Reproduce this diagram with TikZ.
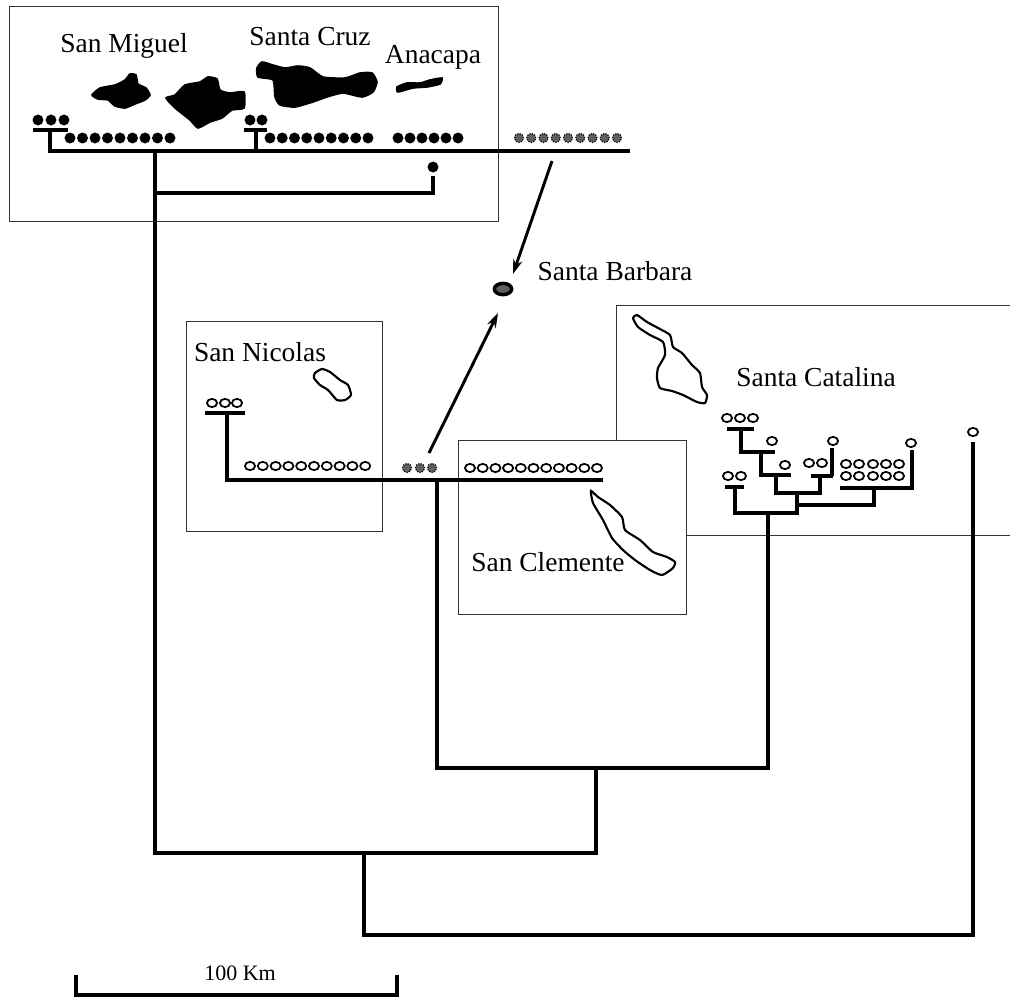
\documentclass[tikz,border=0pt]{standalone}
\usepackage{fontspec}
\setmainfont{Liberation Serif}
\usetikzlibrary{shapes.geometric, arrows.meta, positioning, calc}
\definecolor{speckle}{RGB}{95,95,95}

\begin{document}
\begin{tikzpicture}[
  x=0.75pt, y=-0.75pt,
  frame/.style={line width=0.6pt, black!80},
  island/.style={draw, line width=1.6pt, fill=white, smooth cycle, tension=0.35},
  darkisle/.style={draw, line width=1.2pt, fill=black, smooth cycle, tension=0.35},
  branch/.style={line width=3.6pt},
  filldot/.style={circle, fill=black, minimum size=8.2pt, inner sep=0pt},
  opendot/.style={ellipse, draw, line width=1.3pt, fill=white, minimum width=7.6pt, minimum height=6.2pt, inner sep=0pt},
  greydot/.style={circle, draw=black, densely dotted, line width=0.9pt, fill=speckle, minimum size=6.8pt, inner sep=0pt},
  lab/.style={font=\fontsize{20.6}{24}\selectfont, inner sep=0pt},
  rel/.style={-{Stealth[length=11pt, width=7pt]}, line width=2.2pt}
]
  \useasboundingbox (0,0) rectangle (1010,997);

  % Boxes
  \draw[frame] (9,6) rectangle (498,221);
  \draw[frame] (186,321) rectangle (382,531);
  \coordinate (catTop) at (1010,305);
  \coordinate (catCorner) at (616,305);
  \coordinate (catLeft) at (616,440);
  \coordinate (catBot) at (686,535);
  \coordinate (catEnd) at (1010,535);
  \draw[frame] (catTop) -- (catCorner) -- (catLeft);
  \draw[frame] (catBot) -- (catEnd);
  \draw[frame] (458,440) rectangle (686,614);

  % Islands
  \draw[darkisle] plot coordinates {(92,95) (100,88) (115,85) (125,80) (130,74) (136,75) (138,84) (146,88) (150,95) (145,100) (135,104) (125,108) (115,106) (108,100) (98,99)};
  \draw[darkisle] plot coordinates {(166,98) (175,95) (185,85) (200,82) (208,77) (217,79) (220,90) (230,93) (244,92) (244,108) (232,110) (222,118) (210,122) (198,128) (190,120) (175,108)};
  \draw[darkisle] plot coordinates {(257,68) (262,62) (273,65) (285,68) (298,66) (310,68) (323,77) (345,78) (360,73) (372,73) (377,82) (373,92) (362,97) (343,93) (327,97) (313,102) (295,107) (280,105) (275,97) (273,80) (258,77)};
  \draw[darkisle] plot coordinates {(397,87) (407,83) (420,83) (430,80) (442,78) (440,84) (427,87) (413,88) (398,92)};
  \draw[island] plot coordinates {(315,373) (322,369) (330,372) (340,380) (348,385) (351,395) (345,400) (337,400) (328,390) (320,385) (314,378)};
  \draw[island] plot coordinates {(633,318) (637,315) (647,322) (658,328) (670,335) (673,347) (682,353) (692,365) (700,373) (702,387) (707,395) (705,403) (697,402) (683,395) (672,391) (660,388) (657,378) (658,368) (665,355) (663,342) (650,335) (638,327)};
  \draw[island] plot coordinates {(591,491) (598,497) (610,505) (622,517) (625,530) (640,540) (653,552) (667,557) (675,562) (673,568) (662,575) (650,570) (635,560) (623,550) (612,538) (603,520) (593,503)};

  % Labels
  \node[lab] (sanmiguel) at (124,46) {San Miguel};
  \node[lab] (santacruz) at (310,37) {Santa Cruz};
  \node[lab] (anacapa) at (433,57) {Anacapa};
  \node[lab] (santabarbara) at (615,271) {Santa Barbara};
  \node[lab] (sannicolas) at (260,352) {San Nicolas};
  \node[lab] (santacatalina) at (816,377) {Santa Catalina};
  \node[lab] (sanclemente) at (548,562) {San Clemente};
  \node[font=\fontsize{16.5}{20}\selectfont, inner sep=0pt] (scalelab) at (240,973) {100 Km};

  % Northern group
  \foreach \x in {38,51,64} \node[filldot] (mig\x) at (\x,120) {};
  \foreach \x in {250,262} \node[filldot] (cruz\x) at (\x,120) {};
  \foreach \i in {0,...,8} \node[filldot] (rowa\i) at ({70+12.5*\i},138) {};
  \foreach \i in {0,...,8} \node[filldot] (rowb\i) at ({270+12.25*\i},138) {};
  \foreach \i in {0,...,5} \node[filldot] (rowc\i) at ({398+12*\i},138) {};
  \foreach \i in {0,...,8} \node[greydot] (rowd\i) at ({519+12.25*\i},138) {};
  \node[filldot] (anaTip) at (433,167) {};

  % Santa Barbara
  \node[ellipse, draw=black, line width=2.6pt, fill=speckle, minimum width=13pt, minimum height=8.5pt, inner sep=0pt] (barbara) at (503,289) {};
  \coordinate (arrA) at (552,161);
  \coordinate (arrAend) at (513,274);
  \coordinate (arrB) at (429,453);
  \coordinate (arrBend) at (498,313);
  \draw[rel] (arrA) -- (arrAend);
  \draw[rel] (arrB) -- (arrBend);

  % Southern rows
  \foreach \x in {212,225,237} \node[opendot] (nic\x) at (\x,403) {};
  \foreach \i in {0,...,9} \node[opendot] (rowe\i) at ({250+12.8*\i},466) {};
  \foreach \x in {407,420,432} \node[greydot] (grey\x) at (\x,468) {};
  \foreach \i in {0,...,10} \node[opendot] (rowf\i) at ({470+12.7*\i},468) {};

  % Catalina tips
  \foreach \x in {727,740,753} \node[opendot] (cat\x) at (\x,418) {};
  \foreach \x in {728,741} \node[opendot] (catb\x) at (\x,476) {};
  \foreach \x in {809,822} \node[opendot] (catc\x) at (\x,463) {};
  \node[opendot] (tipA) at (772,441) {};
  \node[opendot] (tipB) at (785,465) {};
  \node[opendot] (tipC) at (833,441) {};
  \node[opendot] (tipD) at (911,443) {};
  \node[opendot] (tipE) at (973,432) {};
  \foreach \x in {846,859,873,886,899} {
    \node[opendot] (gridu\x) at (\x,464) {};
    \node[opendot] (gridl\x) at (\x,476) {};
  }

  % Tree junctions
  \coordinate (migBarL) at (33,130);
  \coordinate (migBarR) at (68,130);
  \coordinate (migStem) at (50,130);
  \coordinate (cruzBarL) at (244,130);
  \coordinate (cruzBarR) at (267,130);
  \coordinate (cruzStem) at (256,130);
  \coordinate (northFork) at (155,151);
  \coordinate (northEnd) at (630,151);
  \coordinate (anaStem) at (433,176);
  \coordinate (anaFork) at (155,193);
  \coordinate (rootL) at (155,853);
  \coordinate (rootR) at (596,853);
  \coordinate (rootMid) at (364,853);
  \coordinate (topEnd) at (973,442);
  \coordinate (bottomL) at (364,935);
  \coordinate (bottomR) at (973,935);

  \coordinate (nicBarL) at (205,413);
  \coordinate (nicBarR) at (245,413);
  \coordinate (nicStem) at (227,413);
  \coordinate (southEnd) at (603,480);
  \coordinate (southFork) at (437,480);
  \coordinate (midL) at (437,768);
  \coordinate (midC) at (596,768);
  \coordinate (midR) at (768,768);
  \coordinate (catRoot) at (768,513);

  \coordinate (c1L) at (727,429);
  \coordinate (c1R) at (754,429);
  \coordinate (c1S) at (741,429);
  \coordinate (c2R) at (775,452);
  \coordinate (c2S) at (761,452);
  \coordinate (c3R) at (791,475);
  \coordinate (c3S) at (776,475);
  \coordinate (c4R) at (820,493);
  \coordinate (c5L) at (811,476);
  \coordinate (c5R) at (833,476);
  \coordinate (c5T) at (832,448);
  \coordinate (c6) at (797,493);
  \coordinate (c7) at (797,513);
  \coordinate (c8L) at (735,513);
  \coordinate (c8T) at (735,487);
  \coordinate (c8A) at (725,487);
  \coordinate (c8B) at (744,487);
  \coordinate (c9) at (797,505);
  \coordinate (c10) at (874,505);
  \coordinate (c11) at (874,488);
  \coordinate (c12L) at (840,488);
  \coordinate (c12R) at (914,488);
  \coordinate (c12T) at (912,450);

  % Tree
  \draw[branch] (migBarL) -- (migBarR);
  \draw[branch] (cruzBarL) -- (cruzBarR);
  \draw[branch] (migStem) |- (northEnd);
  \draw[branch] (cruzStem) -- (cruzStem |- northEnd);
  \draw[branch] (anaStem) |- (anaFork);
  \draw[branch] (northFork) -- (rootL) -- (rootR) -- (midC);
  \draw[branch] (rootMid) -- (bottomL) -- (bottomR) -- (topEnd);

  \draw[branch] (nicBarL) -- (nicBarR);
  \draw[branch] (nicStem) |- (southEnd);
  \draw[branch] (southFork) -- (midL) -- (midR) -- (catRoot);

  \draw[branch] (c1L) -- (c1R);
  \draw[branch] (c1S) |- (c2R);
  \draw[branch] (c2S) |- (c3R);
  \draw[branch] (c3S) |- (c4R) -- (c4R |- c5L);
  \draw[branch] (c5L) -- (c5R);
  \draw[branch] (c5T) -- (c5T |- c5L);
  \draw[branch] (c6) -- (c7) -- (c8L) -- (c8T);
  \draw[branch] (c8A) -- (c8B);
  \draw[branch] (c9) -- (c10) -- (c11);
  \draw[branch] (c12L) -- (c12R);
  \draw[branch] (c12T) -- (c12T |- c12L);

  % Scale bar
  \coordinate (scaleL) at (76,975);
  \coordinate (scaleR) at (397,975);
  \coordinate (scaleBase) at (240,995);
  \draw[line width=3pt] (scaleL) |- (scaleBase) -| (scaleR);
\end{tikzpicture}
\end{document}
